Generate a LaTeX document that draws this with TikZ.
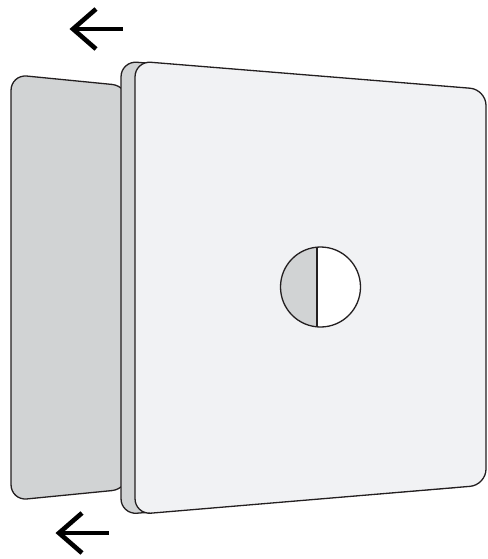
\documentclass[tikz,border=0pt]{standalone}
\begin{document}
\begin{tikzpicture}[x=1pt,y=-1pt,
  panel/.style={draw=edgecol,line width=1.3pt,rounded corners=16pt,line join=round},
  arr/.style={draw=black,line width=4.6pt,line join=miter}]
\definecolor{edgecol}{HTML}{231F20}
\definecolor{panelgray}{HTML}{D1D3D4}
\definecolor{panelfront}{HTML}{F1F2F4}
\useasboundingbox (0,0) rectangle (487,559);
% arrows
\coordinate (t1) at (73,29);
\coordinate (t1a) at (96,9);
\coordinate (t1b) at (96,49);
\coordinate (t1e) at (123,29);
\draw[arr] (t1a) -- (t1) -- (t1b);
\draw[arr] (t1) -- (t1e);
\coordinate (t2) at (59,533);
\coordinate (t2a) at (82,513);
\coordinate (t2b) at (82,553);
\coordinate (t2e) at (109,533);
\draw[arr] (t2a) -- (t2) -- (t2b);
\draw[arr] (t2) -- (t2e);
% left panel
\coordinate (l1) at (11,74.5);
\coordinate (l2) at (128,86);
\coordinate (l3) at (128,489);
\coordinate (l4) at (11,500.5);
\filldraw[panel,fill=panelgray] (l1) -- (l2) -- (l3) -- (l4) -- cycle;
% back thin panel
\coordinate (b1) at (121,61);
\coordinate (b2) at (472,89);
\coordinate (b3) at (472,486);
\coordinate (b4) at (121,514.5);
\filldraw[panel,fill=panelgray] (b1) -- (b2) -- (b3) -- (b4) -- cycle;
% front panel
\coordinate (f1) at (135,61);
\coordinate (f2) at (486,89.5);
\coordinate (f3) at (486,485);
\coordinate (f4) at (135,514.5);
\filldraw[panel,fill=panelfront] (f1) -- (f2) -- (f3) -- (f4) -- cycle;
% circle
\coordinate (c) at (320.5,287);
\fill[white] (c) circle (40);
\begin{scope}
\clip (270,240) rectangle (317,335);
\fill[panelgray] (c) circle (40);
\end{scope}
\coordinate (dtop) at (317,247.1);
\coordinate (dbot) at (317,326.9);
\draw[edgecol,line width=1.3pt] (dtop) -- (dbot);
\draw[edgecol,line width=1.3pt] (c) circle (40);
\end{tikzpicture}
\end{document}
